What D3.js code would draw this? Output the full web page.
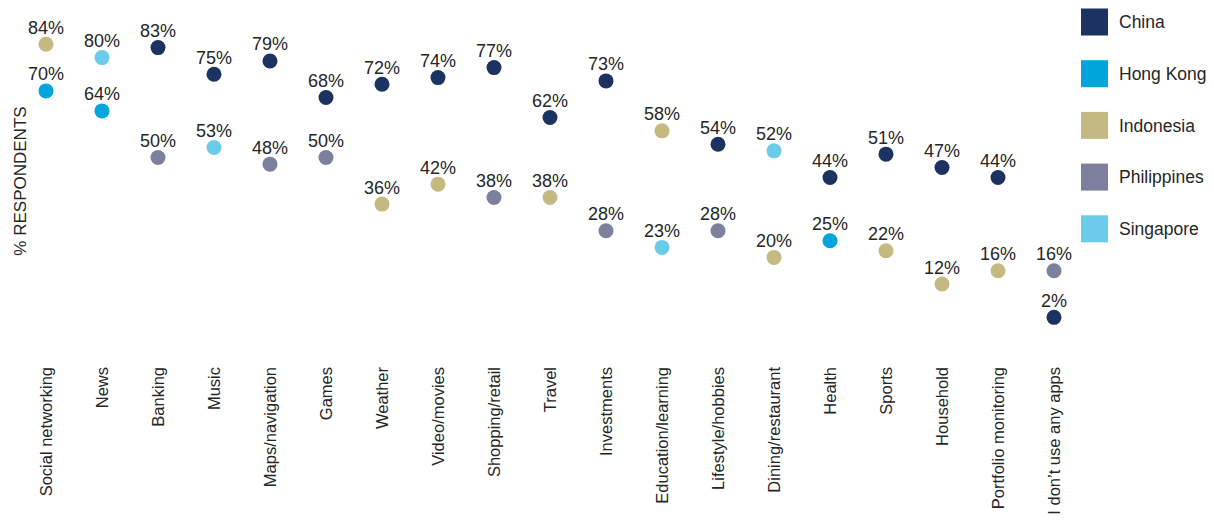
<!DOCTYPE html>
<html>
<head>
<meta charset="utf-8">
<script src="https://cdn.jsdelivr.net/npm/d3@7"></script>
<style>
  html, body { margin: 0; padding: 0; background: #ffffff; }
  svg { display: block; font-family: "Liberation Sans", Arial, sans-serif; }
</style>
</head>
<body>
<svg id="chart" width="1214" height="524"></svg>
<script>
// App categories, in display order
const categories = [
  "Social networking", "News", "Banking", "Music", "Maps/navigation", "Games",
  "Weather", "Video/movies", "Shopping/retail", "Travel", "Investments",
  "Education/learning", "Lifestyle/hobbies", "Dining/restaurant", "Health",
  "Sports", "Household", "Portfolio monitoring", "I don\u2019t use any apps"
];

// Highest-scoring market per category
const highValues  = [84, 80, 83, 75, 79, 68, 72, 74, 77, 62, 73, 58, 54, 52, 44, 51, 47, 44, 16];
const highCountry = ["Indonesia", "Singapore", "China", "China", "China", "China", "China", "China", "China",
                     "China", "China", "Indonesia", "China", "Singapore", "China", "China", "China", "China", "Philippines"];

// Lowest-scoring market per category
const lowValues   = [70, 64, 50, 53, 48, 50, 36, 42, 38, 38, 28, 23, 28, 20, 25, 22, 12, 16, 2];
const lowCountry  = ["Hong Kong", "Hong Kong", "Philippines", "Singapore", "Philippines", "Philippines",
                     "Indonesia", "Indonesia", "Philippines", "Indonesia", "Philippines", "Singapore",
                     "Philippines", "Indonesia", "Hong Kong", "Indonesia", "Indonesia", "Indonesia", "China"];

// Markets and their colours
const countries = ["China", "Hong Kong", "Indonesia", "Philippines", "Singapore"];
const countryColors = ["#1c3361", "#00a5db", "#c5b982", "#7e7e9e", "#6acbeb"];

const points = [];
categories.forEach((c, i) => {
  points.push({ category: c, value: highValues[i], country: highCountry[i] });
  points.push({ category: c, value: lowValues[i], country: lowCountry[i] });
});

const svg = d3.select("#chart");
const textColor = "#262626";

const x = d3.scalePoint().domain(categories).range([46, 1054]);
const y = d3.scaleLinear().domain([0, 100]).range([324, -9]);
const color = d3.scaleOrdinal().domain(countries).range(countryColors);

// Dots
svg.append("g")
  .selectAll("circle")
  .data(points)
  .join("circle")
  .attr("cx", d => x(d.category))
  .attr("cy", d => y(d.value))
  .attr("r", 7.5)
  .attr("fill", d => color(d.country));

// Value labels above each dot
svg.append("g")
  .selectAll("text")
  .data(points)
  .join("text")
  .attr("x", d => x(d.category))
  .attr("y", d => y(d.value) - 10.5)
  .attr("text-anchor", "middle")
  .attr("font-size", 18)
  .attr("fill", textColor)
  .text(d => d.value + "%");

// Category axis labels (vertical)
const xAxis = d3.axisBottom(x).tickSize(0).tickPadding(0);
const gx = svg.append("g")
  .attr("transform", "translate(0,367)")
  .call(xAxis);
gx.attr("font-family", null).attr("font-size", null);
gx.select(".domain").remove();
gx.selectAll("text")
  .attr("font-size", 16.5)
  .attr("fill", textColor)
  .attr("text-anchor", "end")
  .attr("transform", "rotate(-90)")
  .attr("x", 0)
  .attr("y", 0)
  .attr("dy", "0.35em");

// Y-axis title
svg.append("text")
  .attr("transform", "translate(26,181) rotate(-90)")
  .attr("text-anchor", "middle")
  .attr("font-size", 17)
  .attr("fill", textColor)
  .text("% RESPONDENTS");

// Legend
const legend = svg.append("g")
  .selectAll("g")
  .data(countries)
  .join("g")
  .attr("transform", (d, i) => `translate(1081,${8.5 + i * 51.7})`);
legend.append("rect")
  .attr("width", 27)
  .attr("height", 27)
  .attr("fill", d => color(d));
legend.append("text")
  .attr("x", 38)
  .attr("y", 13.5)
  .attr("dy", "0.35em")
  .attr("font-size", 17.5)
  .attr("fill", textColor)
  .text(d => d);
</script>
</body>
</html>
